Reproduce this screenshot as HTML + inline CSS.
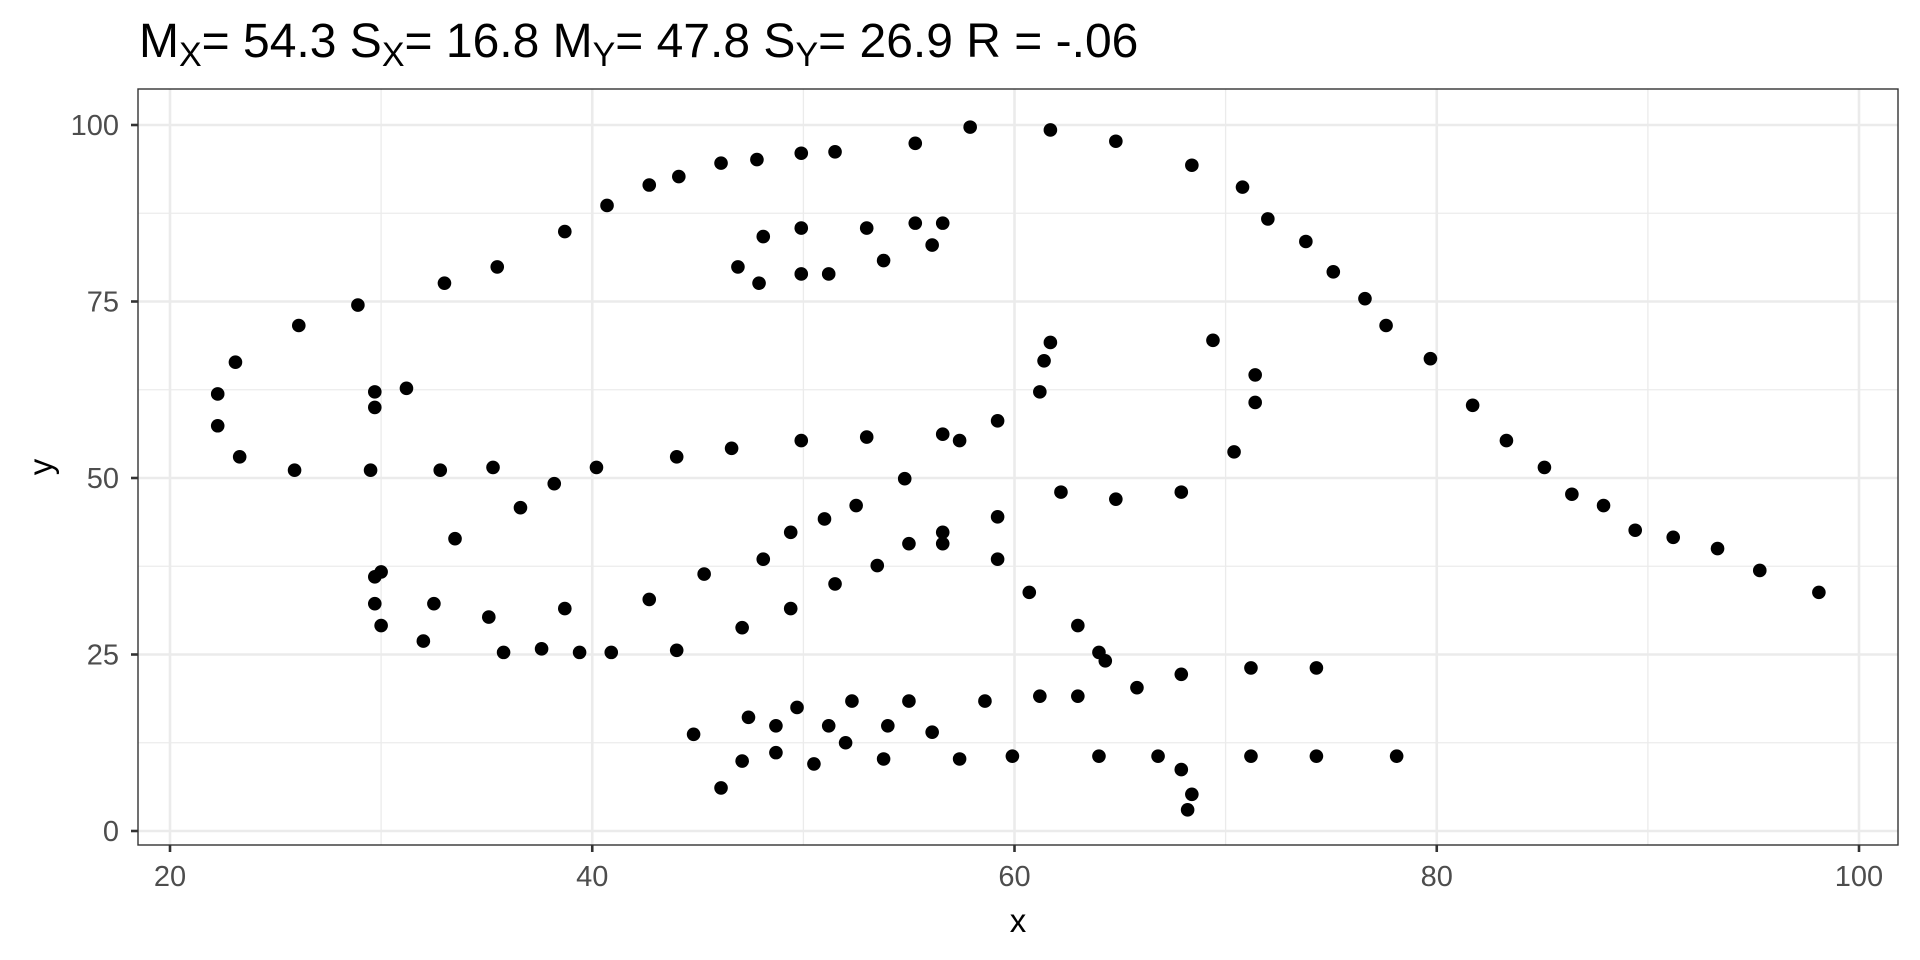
<!DOCTYPE html>
<html><head><meta charset="utf-8">
<style>
html,body{margin:0;padding:0;background:#fff;}
body{width:1920px;height:960px;overflow:hidden;position:relative;font-family:"Liberation Sans",Arial,sans-serif;}
#title{position:absolute;left:139px;top:18px;font-size:48px;color:#000;white-space:nowrap;line-height:1;}
#title sub{font-size:34px;vertical-align:-9px;line-height:0;}
svg{position:absolute;left:0;top:0;}
</style></head>
<body>
<div id="title">M<sub>X</sub>= 54.3 S<sub>X</sub>= 16.8 M<sub>Y</sub>= 47.8 S<sub>Y</sub>= 26.9 R = -.06</div>
<svg id="chart" width="1920" height="960"></svg>
<script>
const xs = [22.26,22.26,23.3,23.1,26.1,28.9,33.0,35.5,38.7,40.7,42.7,44.1,46.1,47.8,49.9,51.5,55.3,57.9,61.7,64.8,68.4,70.8,72.0,73.8,75.1,76.6,77.6,79.7,81.7,83.3,85.1,86.4,87.9,89.4,91.2,93.3,95.3,98.1,
46.9,47.9,48.1,49.9,49.9,51.2,53.0,53.8,55.3,56.1,56.6,
25.9,29.5,29.7,29.7,31.2,32.8,35.3,36.6,38.2,40.2,44.0,46.6,49.9,53.0,56.6,57.4,59.2,61.2,61.4,61.7,69.4,71.4,71.4,70.4,
29.7,30.0,33.5,29.7,30.0,32.5,32.0,35.1,35.8,37.6,39.4,40.9,38.7,42.7,44.0,45.3,47.1,48.1,49.4,49.4,51.0,51.5,52.5,53.5,54.8,55.0,56.6,56.6,59.2,59.2,60.7,62.2,64.8,67.9,63.0,64.0,64.3,65.8,67.9,71.2,74.3,
44.8,46.1,47.1,47.4,48.7,48.7,49.7,50.5,51.2,52.0,52.3,53.8,54.0,55.0,56.1,57.4,58.6,59.9,61.2,63.0,64.0,66.8,67.9,68.4,68.2,71.2,74.3,78.1];
const ys = [61.9,57.4,53.0,66.4,71.6,74.5,77.6,79.9,84.9,88.6,91.5,92.7,94.6,95.1,96.0,96.2,97.4,99.7,99.3,97.7,94.3,91.2,86.7,83.5,79.2,75.4,71.6,66.9,60.3,55.3,51.5,47.7,46.1,42.6,41.6,40.0,36.9,33.8,
79.9,77.6,84.2,85.4,78.9,78.9,85.4,80.8,86.1,83.0,86.1,
51.1,51.1,62.2,60.0,62.7,51.1,51.5,45.8,49.2,51.5,53.0,54.2,55.3,55.8,56.2,55.3,58.1,62.2,66.6,69.2,69.5,64.6,60.7,53.7,
36.0,36.7,41.4,32.2,29.1,32.2,26.9,30.3,25.3,25.8,25.3,25.3,31.5,32.8,25.6,36.4,28.8,38.5,31.5,42.3,44.2,35.0,46.1,37.6,49.9,40.7,42.3,40.7,44.5,38.5,33.8,48.0,47.0,48.0,29.1,25.3,24.1,20.3,22.2,23.1,23.1,
13.7,6.1,9.9,16.1,14.9,11.1,17.5,9.5,14.9,12.5,18.4,10.2,14.9,18.4,14.0,10.2,18.4,10.6,19.1,19.1,10.6,10.6,8.7,5.2,3.0,10.6,10.6,10.6];
const xTicks = [20,40,60,80,100];
const yTicks = [0,25,50,75,100];
const xMinor = [30,50,70,90];
const yMinor = [12.5,37.5,62.5,87.5];

const L=138,R=1898,T=89,B=845;
const sx = v => 170 + (v-20)*(1859-170)/80;
const sy = v => 831 - v*(831-125)/100;
const NS='http://www.w3.org/2000/svg';
const svg=document.getElementById('chart');
function mk(tag,attrs,parent){const e=document.createElementNS(NS,tag);for(const k in attrs)e.setAttribute(k,attrs[k]);(parent||svg).appendChild(e);return e;}

const grid=mk('g',{});


xMinor.forEach(v=>{const l=mk('line',{x1:sx(v),x2:sx(v),y1:T,y2:B,stroke:'#ebebeb','stroke-width':1.3},grid);

});
yMinor.forEach(v=>{const l=mk('line',{x1:L,x2:R,y1:sy(v),y2:sy(v),stroke:'#ebebeb','stroke-width':1.3},grid);

});
xTicks.forEach(v=>{const l=mk('line',{x1:sx(v),x2:sx(v),y1:T,y2:B,stroke:'#ebebeb','stroke-width':2.6},grid);

});
yTicks.forEach(v=>{const l=mk('line',{x1:L,x2:R,y1:sy(v),y2:sy(v),stroke:'#ebebeb','stroke-width':2.6},grid);

});

const pts=mk('g',{});


xs.forEach((x,i)=>{const c=mk('circle',{cx:sx(x),cy:sy(ys[i]),r:6.8,fill:'#000'},pts);

});

const border=mk('rect',{x:L,y:T,width:R-L,height:B-T,fill:'none',stroke:'#333','stroke-width':1.4});



const xa=mk('g',{});


xTicks.forEach(v=>{mk('line',{x1:sx(v),x2:sx(v),y1:B,y2:B+7,stroke:'#333','stroke-width':2.6},xa);
const t=mk('text',{x:sx(v),y:B+41,'text-anchor':'middle','font-size':29,fill:'#4d4d4d'},xa);t.textContent=v;

});
const ya=mk('g',{});


yTicks.forEach(v=>{mk('line',{x1:L-7,x2:L,y1:sy(v),y2:sy(v),stroke:'#333','stroke-width':2.6},ya);
const t=mk('text',{x:L-19,y:sy(v)+10,'text-anchor':'end','font-size':29,fill:'#4d4d4d'},ya);t.textContent=v;

});

const xt=mk('text',{x:(L+R)/2,y:932,'text-anchor':'middle','font-size':33,fill:'#000'});xt.textContent='x';


const yt=mk('text',{x:0,y:0,'text-anchor':'middle','font-size':33,fill:'#000',transform:`translate(52,${(T+B)/2}) rotate(-90)`});yt.textContent='y';


</script>
</body></html>
